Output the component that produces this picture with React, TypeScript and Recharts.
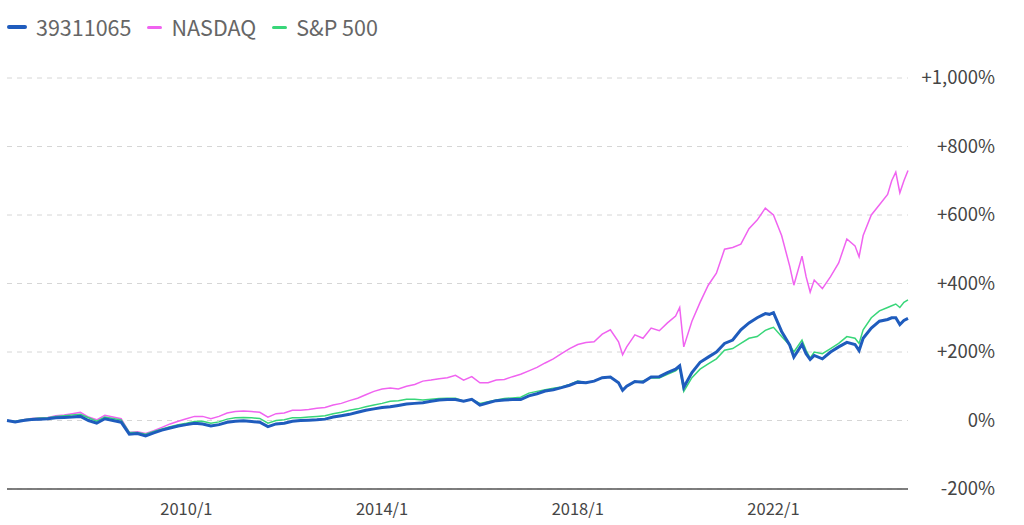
import { LineChart, Line, XAxis, YAxis, CartesianGrid, Legend } from 'recharts';

// monthly-ish samples read off the chart (cumulative return, %)
const dates = [
  '2006/5', '2006/7', '2006/9', '2006/11',
  '2007/1', '2007/3', '2007/5', '2007/7', '2007/9', '2007/11',
  '2008/1', '2008/3', '2008/5', '2008/7', '2008/9', '2008/11',
  '2009/1', '2009/3', '2009/5', '2009/7', '2009/9', '2009/11',
  '2010/1', '2010/3', '2010/5', '2010/7', '2010/9', '2010/11',
  '2011/1', '2011/3', '2011/5', '2011/7', '2011/9', '2011/11',
  '2012/1', '2012/3', '2012/5', '2012/7', '2012/9', '2012/11',
  '2013/1', '2013/3', '2013/5', '2013/7', '2013/9', '2013/11',
  '2014/1', '2014/3', '2014/5', '2014/7', '2014/9', '2014/11',
  '2015/1', '2015/3', '2015/5', '2015/7', '2015/9', '2015/11',
  '2016/1', '2016/3', '2016/5', '2016/7', '2016/9', '2016/11',
  '2017/1', '2017/3', '2017/5', '2017/7', '2017/9', '2017/11',
  '2018/1', '2018/3', '2018/5', '2018/7', '2018/9', '2018/11', '2018/12',
  '2019/1', '2019/3', '2019/5', '2019/7', '2019/9', '2019/11',
  '2020/1', '2020/2', '2020/3', '2020/5', '2020/7', '2020/9', '2020/11',
  '2021/1', '2021/3', '2021/5', '2021/7', '2021/9', '2021/11', '2021/12',
  '2022/1', '2022/3', '2022/5', '2022/6', '2022/8', '2022/9', '2022/10', '2022/11',
  '2023/1', '2023/3', '2023/5', '2023/7', '2023/9', '2023/10', '2023/11',
  '2024/1', '2024/3', '2024/5', '2024/6', '2024/7', '2024/8', '2024/9', '2024/10',
];

const fund = [
  0, -4, 0, 3,
  4, 5, 8, 9, 10, 12,
  0, -8, 5, 0, -5, -40,
  -38, -45, -36, -28, -22, -16,
  -12, -8, -10, -16, -12, -5,
  -2, -1, -3, -5, -18, -10,
  -8, -2, 0, 1, 2, 4,
  10, 14, 18, 24, 30, 34,
  38, 40, 44, 48, 50, 52,
  56, 60, 61, 61, 56, 62,
  45, 52, 58, 60, 61, 61,
  72, 78, 86, 90, 96, 103,
  112, 110, 115, 125, 127, 110, 88,
  100, 114, 112, 127, 128, 140,
  150, 160, 97, 140, 170, 185, 200,
  225, 235, 265, 285, 300, 312, 310,
  315, 260, 220, 185, 222, 195, 178, 190,
  180, 200, 215, 228, 222, 204, 240,
  270, 290, 295, 300, 300, 280, 292, 298,
];

const nasdaq = [
  0, -3, 2, 6,
  8, 9, 14, 16, 20, 24,
  10, 2, 15, 10, 5, -35,
  -33, -38, -30, -20, -10, -2,
  5, 12, 12, 5, 12, 22,
  26, 28, 26, 24, 10, 20,
  22, 30, 30, 32, 36, 38,
  45, 50, 58, 65, 75, 85,
  92, 95, 92, 100, 105, 115,
  118, 122, 125, 132, 118, 128,
  110, 110, 118, 120, 128, 135,
  145, 155, 168, 180, 195, 210,
  222, 228, 230, 252, 265, 230, 192,
  215, 250, 240, 270, 262, 285,
  305, 330, 215, 290, 345, 395, 430,
  500, 505, 515, 560, 585, 620, 610,
  600, 540, 450, 395, 480, 420, 375, 410,
  385, 420, 460, 530, 510, 478, 540,
  600, 630, 660, 700, 725, 665, 700, 730,
];

const sp500 = [
  0, -2, 2, 5,
  7, 8, 12, 14, 16, 18,
  8, -2, 10, 6, 2, -35,
  -35, -40, -32, -25, -18, -12,
  -8, -3, -2, -8, -4, 4,
  8, 9, 8, 6, -8, 0,
  2, 8, 8, 10, 12, 14,
  20, 24, 30, 34, 40, 45,
  50, 56, 58, 62, 62, 60,
  62, 64, 65, 65, 56, 62,
  50, 55, 60, 64, 66, 68,
  80, 85, 90, 94, 98, 105,
  115, 110, 115, 125, 128, 110, 88,
  100, 112, 115, 125, 124, 135,
  145, 155, 85, 125, 150, 165, 180,
  205, 210, 225, 240, 245, 263, 268,
  272, 245, 220, 200, 235, 205, 182, 200,
  195, 210, 225, 245, 240, 225, 265,
  300, 320, 330, 335, 340, 330, 345, 352,
];

const xTicks = [2010, 2014, 2018, 2022];
const yTicks = [-200, 0, 200, 400, 600, 800, 1000];

const toYear = (d: string) => {
  const [y, m] = d.split('/').map(Number);
  return y + (m - 1) / 12;
};

const data = dates.map((d, i) => ({
  t: toYear(d),
  fund: fund[i],
  nasdaq: nasdaq[i],
  sp500: sp500[i],
}));

const BLUE = '#1f5cbd';
const PINK = '#f063f0';
const GREEN = '#38d679';
const FONT = '"Noto Sans CJK JP", "Noto Sans", sans-serif';

const series = [
  { key: 'fund', name: '39311065', color: BLUE, icon: 20, thick: 4 },
  { key: 'nasdaq', name: 'NASDAQ', color: PINK, icon: 15, thick: 3 },
  { key: 'sp500', name: 'S&P 500', color: GREEN, icon: 15, thick: 3 },
];

const fmtPct = (v: number) => (v > 0 ? `+${v.toLocaleString('en-US')}%` : `${v}%`);

function YTick({ x, y, payload }: any) {
  return (
    <text x={x + 79} y={y} dy={6} textAnchor="end" fill="#454545" fontSize={18.5} fontFamily={FONT}>
      {fmtPct(payload.value)}
    </text>
  );
}

function LegendBox() {
  return (
    <div style={{ height: 60, display: 'flex', alignItems: 'flex-start', fontFamily: FONT }}>
      {series.map((s) => (
        <div key={s.key} style={{ display: 'flex', alignItems: 'center', marginRight: 16, height: 18 }}>
          <span
            style={{ width: s.icon, height: s.thick, background: s.color, borderRadius: 2, marginRight: 9 }}
          />
          <span style={{ fontSize: 21.5, color: '#666', lineHeight: '18px' }}>{s.name}</span>
        </div>
      ))}
    </div>
  );
}

export default function App() {
  return (
    <div style={{ position: 'absolute', left: 0, top: 0, background: '#fff' }}>
      <LineChart width={1024} height={525} data={data} margin={{ top: 18, right: 0, bottom: 0, left: 7 }}>
        <CartesianGrid vertical={false} stroke="#d6d6d6" strokeDasharray="5 5" />
        <XAxis
          dataKey="t"
          type="number"
          domain={[toYear(dates[0]), toYear(dates[dates.length - 1])]}
          ticks={xTicks}
          tickFormatter={(v) => `${v}/1`}
          tickLine={false}
          tickMargin={8}
          height={36}
          axisLine={{ stroke: '#555', strokeWidth: 1.5 }}
          tick={{ fill: '#454545', fontSize: 16.5, fontFamily: FONT }}
        />
        <YAxis
          orientation="right"
          domain={[-200, 1000]}
          ticks={yTicks}
          width={116}
          axisLine={false}
          tickLine={false}
          tick={<YTick />}
        />
        <Legend verticalAlign="top" align="left" content={<LegendBox />} />
        <Line dataKey="nasdaq" name="NASDAQ" stroke={PINK} strokeWidth={1.5} dot={false} isAnimationActive={false} />
        <Line dataKey="sp500" name="S&P 500" stroke={GREEN} strokeWidth={1.5} dot={false} isAnimationActive={false} />
        <Line dataKey="fund" name="39311065" stroke={BLUE} strokeWidth={3} dot={false} isAnimationActive={false} />
      </LineChart>
    </div>
  );
}
